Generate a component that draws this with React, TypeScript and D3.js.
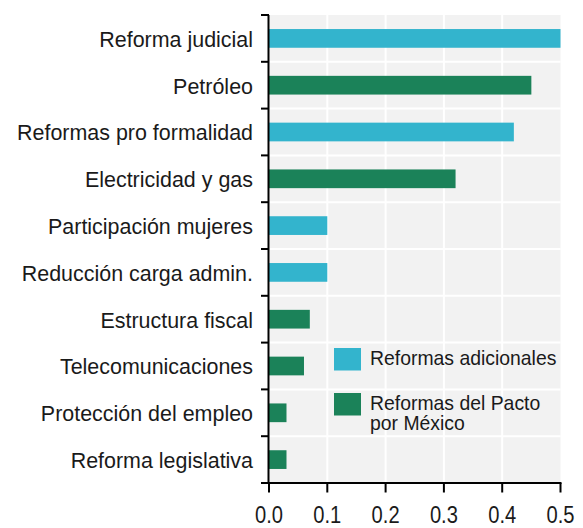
import React from "react";
import * as d3 from "d3";

const categories = [
  "Reforma judicial",
  "Petróleo",
  "Reformas pro formalidad",
  "Electricidad y gas",
  "Participación mujeres",
  "Reducción carga admin.",
  "Estructura fiscal",
  "Telecomunicaciones",
  "Protección del empleo",
  "Reforma legislativa",
];
const values = [0.5, 0.45, 0.42, 0.32, 0.1, 0.1, 0.07, 0.06, 0.03, 0.03];
const groups = ["a", "p", "a", "p", "a", "a", "p", "p", "p", "p"];
const xTicks = [0, 0.1, 0.2, 0.3, 0.4, 0.5];
const legendItems = [
  { key: "a", lines: ["Reformas adicionales"] },
  { key: "p", lines: ["Reformas del Pacto", "por México"] },
];

const COLORS: Record<string, string> = { a: "#33B4CD", p: "#1B8259" };
const FONT = "'Liberation Sans', Arial, sans-serif";

export default function App() {
  const W = 583;
  const H = 528;
  const x = d3.scaleLinear().domain([0, 0.5]).range([269, 560.5]);
  const y = d3
    .scaleBand<string>()
    .domain(categories)
    .range([15, 483])
    .paddingInner(0.6)
    .paddingOuter(0.3);
  const band = d3.scaleBand<string>().domain(categories).range([15, 483]);
  const plotTop = 15;
  const plotBottom = 483;
  const plotLeft = 269.5;
  const plotRight = 560.5;

  const boundaries = categories.map((c) => band(c) as number).slice(1);

  return (
    <svg
      width={W}
      height={H}
      style={{ position: "absolute", left: 0, top: 0, background: "#fff" }}
      fontFamily={FONT}
    >
      <rect
        x={plotLeft}
        y={plotTop}
        width={plotRight - plotLeft}
        height={plotBottom - plotTop}
        fill="#F2F2F2"
      />
      {xTicks.slice(1, -1).map((t) => (
        <line
          key={"gv" + t}
          x1={x(t)}
          x2={x(t)}
          y1={plotTop}
          y2={plotBottom}
          stroke="#fff"
          strokeWidth={2}
        />
      ))}
      {boundaries.map((b, i) => (
        <line
          key={"gh" + i}
          x1={plotLeft}
          x2={plotRight}
          y1={b}
          y2={b}
          stroke="#fff"
          strokeWidth={2}
        />
      ))}
      {categories.map((c, i) => (
        <rect
          key={"bar" + c}
          x={x(0)}
          y={y(c)}
          width={x(values[i]) - x(0)}
          height={y.bandwidth()}
          fill={COLORS[groups[i]]}
        />
      ))}
      {/* y axis */}
      <line x1={268.5} x2={268.5} y1={plotTop} y2={plotBottom + 1} stroke="#000" strokeWidth={2} />
      {[plotTop, ...boundaries, plotBottom].map((b, i) => (
        <line key={"yt" + i} x1={261} x2={269} y1={b} y2={b} stroke="#000" strokeWidth={2} />
      ))}
      {categories.map((c) => (
        <text
          key={"lbl" + c}
          transform={`translate(253, ${(band(c) as number) + band.bandwidth() / 2 + 8.3}) scale(0.975,1)`}
          textAnchor="end"
          fontSize={22}
          fill="#1a1a1a"
        >
          {c}
        </text>
      ))}
      {/* x axis */}
      <line x1={267.5} x2={561.5} y1={483} y2={483} stroke="#000" strokeWidth={2} />
      {xTicks.map((t) => (
        <g key={"xt" + t}>
          <line x1={x(t)} x2={x(t)} y1={483} y2={492.5} stroke="#000" strokeWidth={2} />
          <text
            transform={`translate(${x(t)}, 522.5) scale(0.84,1)`}
            textAnchor="middle"
            fontSize={24}
            fill="#1a1a1a"
          >
            {d3.format(".1f")(t)}
          </text>
        </g>
      ))}
      {/* legend */}
      {legendItems.map((item, i) => {
        const top = 348 + i * 45;
        return (
          <g key={"lg" + item.key}>
            <rect x={334} y={top} width={27} height={22.5} fill={COLORS[item.key]} />
            {item.lines.map((ln, j) => (
              <text
                key={ln}
                transform={`translate(370, ${top + 16.5 + j * 20.5}) scale(0.97,1)`}
                fontSize={20}
                fill="#1a1a1a"
              >
                {ln}
              </text>
            ))}
          </g>
        );
      })}
    </svg>
  );
}
